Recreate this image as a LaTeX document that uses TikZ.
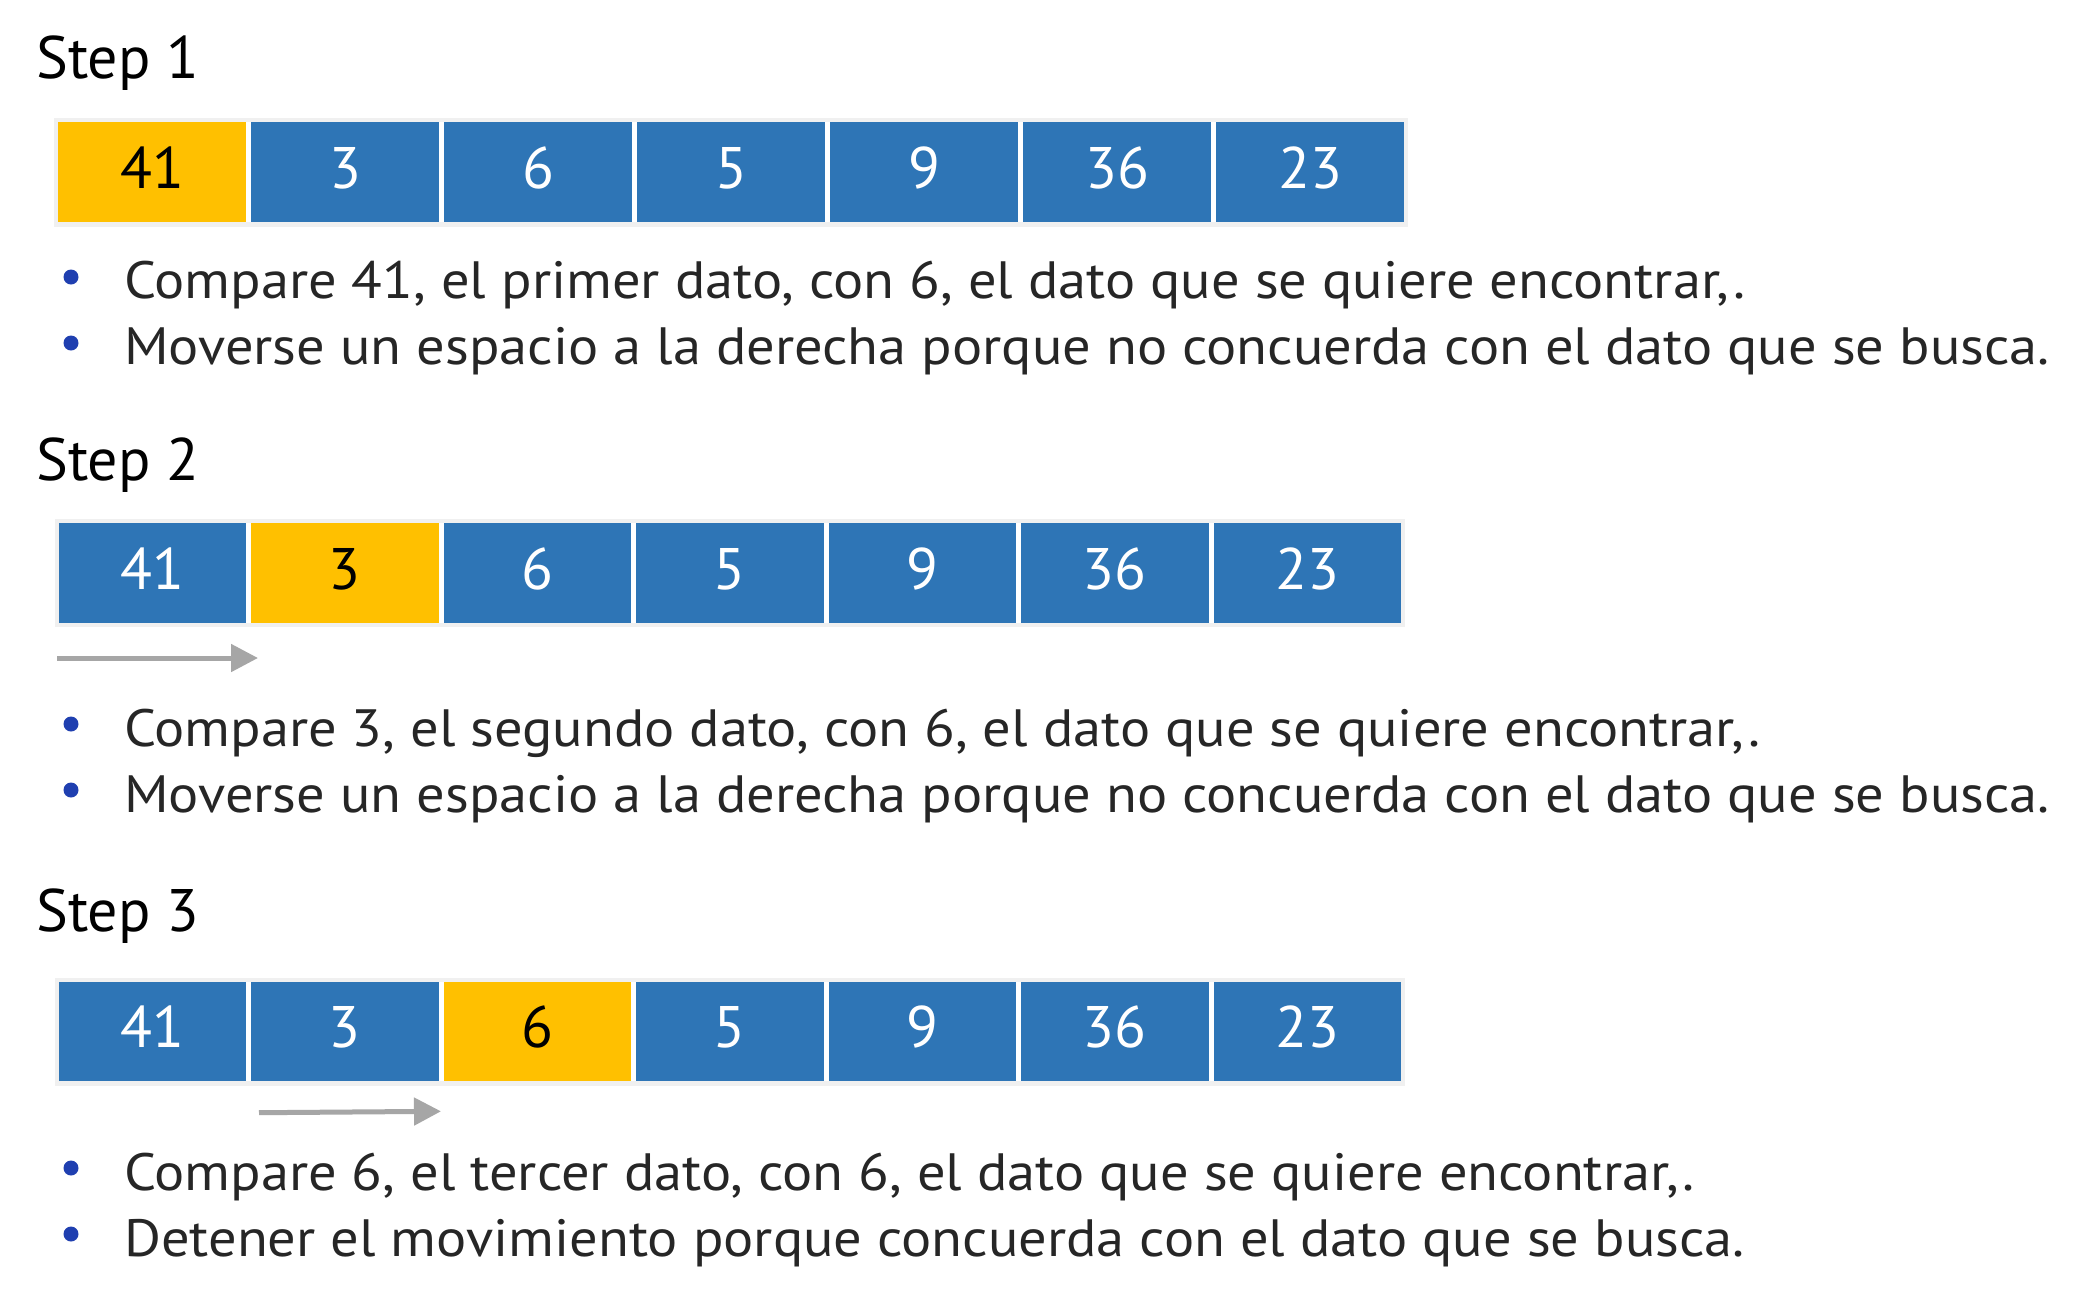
\documentclass[tikz,border=0pt]{standalone}
\usepackage{fontspec}
\setmainfont{PT Sans}
\newfontfamily\bulletfont[FakeStretch=1.075]{PT Sans}
\usetikzlibrary{arrows.meta}
\definecolor{cellblue}{HTML}{2E75B6}
\definecolor{cellyellow}{HTML}{FFC000}
\definecolor{framegray}{HTML}{F0F0F0}
\definecolor{arrowgray}{HTML}{A6A6A6}
\definecolor{bulletblue}{HTML}{1F3FB0}
\definecolor{textgray}{HTML}{262626}
\tikzset{
  cell/.style={minimum height=100pt, inner sep=0pt, text depth=9pt,
    font=\fontsize{58.6}{70}\selectfont},
  steplabel/.style={anchor=base west, inner sep=0pt, text=black,
    font=\fontsize{60}{70}\selectfont},
  bullettext/.style={anchor=base west, inner sep=0pt, text=textgray,
    font=\bulletfont\fontsize{52.5}{60}\selectfont},
  bulletdot/.style={circle, fill=bulletblue, inner sep=0pt, minimum size=15pt},
  movearrow/.style={draw=arrowgray, line width=5pt,
    -{Triangle[length=27pt,width=27pt]}},
  rowframe/.style={fill=framegray},
}
\begin{document}
\begin{tikzpicture}[x=1pt,y=-1pt]
\useasboundingbox (0,0) rectangle (2080,1310);
\fill[white] (0,0) rectangle (2080,1310);

% ---------- Step 1 ----------
\node[steplabel] (s1) at (36,78) {Step 1};
\fill[rowframe] (54,117.5) rectangle (1408,226.5);
\fill[white] (58,122) rectangle (1404,222);
\foreach \v [count=\i] in {41,3,6,5,9,36,23} {
  \ifnum\i=1 \def\cf{cellyellow}\def\tc{black}\else\def\cf{cellblue}\def\tc{white}\fi
  \node[cell, minimum width=188pt, fill=\cf, text=\tc] (ra\i) at ({58+94+193*(\i-1)},172) {\v};
}
\node[bulletdot] (b1a) at (71,277) {};
\node[bulletdot] (b1b) at (71,343) {};
\node[bullettext] (t1a) at (124,298.5) {Compare 41, el primer dato, con 6, el dato que se quiere encontrar,.};
\node[bullettext] (t1b) at (124,364) {Moverse un espacio a la derecha porque no concuerda con el dato que se busca.};

% ---------- Step 2 ----------
\node[steplabel] (s2) at (36,480) {Step 2};
\fill[rowframe] (54.5,519) rectangle (1405,627);
\fill[white] (58.5,523) rectangle (1401,623);
\foreach \v [count=\i] in {41,3,6,5,9,36,23} {
  \ifnum\i=2 \def\cf{cellyellow}\def\tc{black}\else\def\cf{cellblue}\def\tc{white}\fi
  \node[cell, minimum width=187.5pt, fill=\cf, text=\tc] (rb\i) at ({58.5+93.75+192.5*(\i-1)},573) {\v};
}
\coordinate (a2s) at (57,658);
\coordinate (a2e) at (258,658);
\draw[movearrow] (a2s) -- (a2e);
\node[bulletdot] (b2a) at (71,724) {};
\node[bulletdot] (b2b) at (71,790) {};
\node[bullettext] (t2a) at (124,746.5) {Compare 3, el segundo dato, con 6, el dato que se quiere encontrar,.};
\node[bullettext] (t2b) at (124,812) {Moverse un espacio a la derecha porque no concuerda con el dato que se busca.};

% ---------- Step 3 ----------
\node[steplabel] (s3) at (36,931.5) {Step 3};
\fill[rowframe] (54.5,977.5) rectangle (1405,1085.5);
\fill[white] (58.5,982) rectangle (1401,1081);
\foreach \v [count=\i] in {41,3,6,5,9,36,23} {
  \ifnum\i=3 \def\cf{cellyellow}\def\tc{black}\else\def\cf{cellblue}\def\tc{white}\fi
  \node[cell, minimum width=187.5pt, minimum height=99pt, fill=\cf, text=\tc] (rc\i) at ({58.5+93.75+192.5*(\i-1)},1031.5) {\v};
}
\coordinate (a3s) at (259,1112.7);
\coordinate (a3e) at (441,1111.3);
\draw[movearrow] (a3s) -- (a3e);
\node[bulletdot] (b3a) at (71,1168) {};
\node[bulletdot] (b3b) at (71,1234) {};
\node[bullettext] (t3a) at (124,1190.5) {Compare 6, el tercer dato, con 6, el dato que se quiere encontrar,.};
\node[bullettext] (t3b) at (124,1256.5) {Detener el movimiento porque concuerda con el dato que se busca.};
\end{tikzpicture}
\end{document}
